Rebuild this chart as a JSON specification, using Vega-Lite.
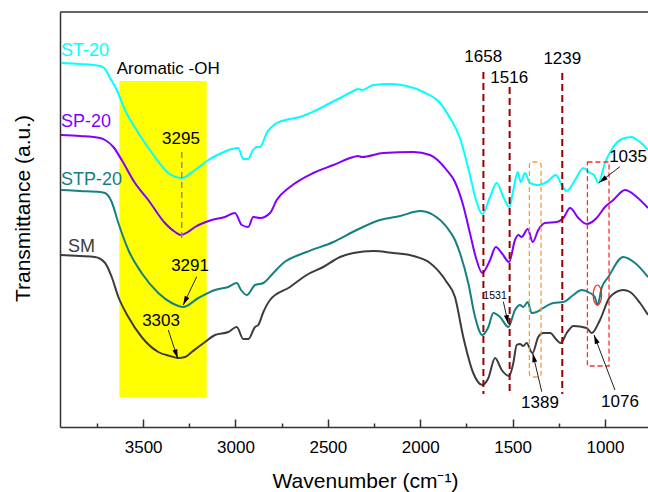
{
  "$schema": "https://vega.github.io/schema/vega-lite/v6.json",
  "width": 588,
  "height": 415,
  "autosize": "none",
  "padding": {"left": 60, "top": 12, "right": 0, "bottom": 65},
  "background": "white",
  "config": {"view": {"stroke": null}, "font": "Liberation Sans"},
  "datasets": {
    "curves": [
      {"s":"ST-20","wn":3945,"t":364},{"s":"ST-20","wn":3842,"t":363},{"s":"ST-20","wn":3733,"t":361},{"s":"ST-20","wn":3706,"t":358},{"s":"ST-20","wn":3679,"t":349},{"s":"ST-20","wn":3643,"t":337},{"s":"ST-20","wn":3598,"t":317},{"s":"ST-20","wn":3526,"t":294},{"s":"ST-20","wn":3436,"t":270},{"s":"ST-20","wn":3364,"t":254},{"s":"ST-20","wn":3291,"t":249},{"s":"ST-20","wn":3219,"t":257},{"s":"ST-20","wn":3147,"t":267},{"s":"ST-20","wn":3075,"t":274},{"s":"ST-20","wn":3019,"t":278},{"s":"ST-20","wn":2985,"t":279},{"s":"ST-20","wn":2958,"t":268},{"s":"ST-20","wn":2931,"t":268},{"s":"ST-20","wn":2905,"t":277},{"s":"ST-20","wn":2884,"t":280},{"s":"ST-20","wn":2867,"t":280},{"s":"ST-20","wn":2831,"t":294},{"s":"ST-20","wn":2777,"t":304},{"s":"ST-20","wn":2705,"t":308},{"s":"ST-20","wn":2651,"t":310},{"s":"ST-20","wn":2560,"t":317},{"s":"ST-20","wn":2488,"t":324},{"s":"ST-20","wn":2434,"t":329},{"s":"ST-20","wn":2362,"t":336},{"s":"ST-20","wn":2337,"t":338},{"s":"ST-20","wn":2315,"t":337},{"s":"ST-20","wn":2254,"t":342},{"s":"ST-20","wn":2164,"t":343},{"s":"ST-20","wn":2073,"t":341},{"s":"ST-20","wn":1983,"t":335},{"s":"ST-20","wn":1893,"t":324},{"s":"ST-20","wn":1839,"t":309},{"s":"ST-20","wn":1785,"t":289},{"s":"ST-20","wn":1731,"t":252},{"s":"ST-20","wn":1698,"t":227},{"s":"ST-20","wn":1664,"t":213},{"s":"ST-20","wn":1622,"t":230},{"s":"ST-20","wn":1586,"t":244},{"s":"ST-20","wn":1550,"t":230},{"s":"ST-20","wn":1518,"t":220},{"s":"ST-20","wn":1496,"t":237},{"s":"ST-20","wn":1472,"t":255},{"s":"ST-20","wn":1456,"t":245},{"s":"ST-20","wn":1433,"t":254},{"s":"ST-20","wn":1406,"t":244},{"s":"ST-20","wn":1361,"t":242},{"s":"ST-20","wn":1315,"t":245},{"s":"ST-20","wn":1265,"t":252},{"s":"ST-20","wn":1234,"t":242},{"s":"ST-20","wn":1207,"t":236},{"s":"ST-20","wn":1162,"t":247},{"s":"ST-20","wn":1117,"t":259},{"s":"ST-20","wn":1081,"t":254},{"s":"ST-20","wn":1059,"t":252},{"s":"ST-20","wn":1036,"t":244},{"s":"ST-20","wn":1000,"t":264},{"s":"ST-20","wn":955,"t":280},{"s":"ST-20","wn":908,"t":288},{"s":"ST-20","wn":855,"t":290},{"s":"ST-20","wn":826,"t":287},{"s":"ST-20","wn":792,"t":282},{"s":"ST-20","wn":767,"t":277},
      {"s":"SP-20","wn":3945,"t":292},{"s":"SP-20","wn":3842,"t":291},{"s":"SP-20","wn":3733,"t":289},{"s":"SP-20","wn":3706,"t":287},{"s":"SP-20","wn":3661,"t":280},{"s":"SP-20","wn":3616,"t":267},{"s":"SP-20","wn":3544,"t":244},{"s":"SP-20","wn":3472,"t":227},{"s":"SP-20","wn":3382,"t":204},{"s":"SP-20","wn":3327,"t":195},{"s":"SP-20","wn":3295,"t":192},{"s":"SP-20","wn":3257,"t":195},{"s":"SP-20","wn":3219,"t":200},{"s":"SP-20","wn":3129,"t":207},{"s":"SP-20","wn":3057,"t":210},{"s":"SP-20","wn":3003,"t":214},{"s":"SP-20","wn":2966,"t":202},{"s":"SP-20","wn":2931,"t":200},{"s":"SP-20","wn":2904,"t":210},{"s":"SP-20","wn":2867,"t":209},{"s":"SP-20","wn":2813,"t":214},{"s":"SP-20","wn":2777,"t":227},{"s":"SP-20","wn":2705,"t":240},{"s":"SP-20","wn":2579,"t":254},{"s":"SP-20","wn":2470,"t":262},{"s":"SP-20","wn":2362,"t":270},{"s":"SP-20","wn":2337,"t":271},{"s":"SP-20","wn":2315,"t":270},{"s":"SP-20","wn":2200,"t":274},{"s":"SP-20","wn":2037,"t":275},{"s":"SP-20","wn":1947,"t":272},{"s":"SP-20","wn":1857,"t":257},{"s":"SP-20","wn":1812,"t":245},{"s":"SP-20","wn":1768,"t":222},{"s":"SP-20","wn":1731,"t":194},{"s":"SP-20","wn":1698,"t":169},{"s":"SP-20","wn":1664,"t":154},{"s":"SP-20","wn":1622,"t":167},{"s":"SP-20","wn":1591,"t":180},{"s":"SP-20","wn":1559,"t":174},{"s":"SP-20","wn":1519,"t":165},{"s":"SP-20","wn":1487,"t":187},{"s":"SP-20","wn":1469,"t":192},{"s":"SP-20","wn":1451,"t":190},{"s":"SP-20","wn":1418,"t":198},{"s":"SP-20","wn":1391,"t":185},{"s":"SP-20","wn":1361,"t":197},{"s":"SP-20","wn":1325,"t":204},{"s":"SP-20","wn":1261,"t":205},{"s":"SP-20","wn":1225,"t":209},{"s":"SP-20","wn":1189,"t":219},{"s":"SP-20","wn":1144,"t":209},{"s":"SP-20","wn":1099,"t":203},{"s":"SP-20","wn":1045,"t":209},{"s":"SP-20","wn":1000,"t":220},{"s":"SP-20","wn":955,"t":227},{"s":"SP-20","wn":891,"t":237},{"s":"SP-20","wn":828,"t":230},{"s":"SP-20","wn":767,"t":219},
      {"s":"STP-20","wn":3945,"t":237},{"s":"STP-20","wn":3842,"t":236},{"s":"STP-20","wn":3733,"t":235},{"s":"STP-20","wn":3706,"t":234},{"s":"STP-20","wn":3670,"t":225},{"s":"STP-20","wn":3634,"t":204},{"s":"STP-20","wn":3580,"t":177},{"s":"STP-20","wn":3508,"t":154},{"s":"STP-20","wn":3418,"t":134},{"s":"STP-20","wn":3345,"t":124},{"s":"STP-20","wn":3283,"t":120},{"s":"STP-20","wn":3201,"t":129},{"s":"STP-20","wn":3111,"t":137},{"s":"STP-20","wn":3039,"t":140},{"s":"STP-20","wn":2993,"t":144},{"s":"STP-20","wn":2970,"t":137},{"s":"STP-20","wn":2939,"t":132},{"s":"STP-20","wn":2894,"t":142},{"s":"STP-20","wn":2849,"t":144},{"s":"STP-20","wn":2795,"t":154},{"s":"STP-20","wn":2741,"t":164},{"s":"STP-20","wn":2615,"t":175},{"s":"STP-20","wn":2470,"t":185},{"s":"STP-20","wn":2344,"t":197},{"s":"STP-20","wn":2218,"t":207},{"s":"STP-20","wn":2109,"t":211},{"s":"STP-20","wn":2001,"t":216},{"s":"STP-20","wn":1929,"t":212},{"s":"STP-20","wn":1857,"t":200},{"s":"STP-20","wn":1812,"t":187},{"s":"STP-20","wn":1785,"t":174},{"s":"STP-20","wn":1740,"t":144},{"s":"STP-20","wn":1703,"t":110},{"s":"STP-20","wn":1664,"t":92},{"s":"STP-20","wn":1631,"t":100},{"s":"STP-20","wn":1604,"t":114},{"s":"STP-20","wn":1568,"t":110},{"s":"STP-20","wn":1523,"t":100},{"s":"STP-20","wn":1487,"t":117},{"s":"STP-20","wn":1460,"t":122},{"s":"STP-20","wn":1442,"t":120},{"s":"STP-20","wn":1418,"t":125},{"s":"STP-20","wn":1397,"t":114},{"s":"STP-20","wn":1370,"t":115},{"s":"STP-20","wn":1334,"t":119},{"s":"STP-20","wn":1280,"t":124},{"s":"STP-20","wn":1225,"t":125},{"s":"STP-20","wn":1171,"t":132},{"s":"STP-20","wn":1126,"t":137},{"s":"STP-20","wn":1081,"t":134},{"s":"STP-20","wn":1055,"t":130},{"s":"STP-20","wn":1040,"t":122},{"s":"STP-20","wn":1018,"t":139},{"s":"STP-20","wn":982,"t":150},{"s":"STP-20","wn":901,"t":170},{"s":"STP-20","wn":837,"t":164},{"s":"STP-20","wn":767,"t":150},
      {"s":"SM","wn":3945,"t":172},{"s":"SM","wn":3842,"t":171},{"s":"SM","wn":3761,"t":170},{"s":"SM","wn":3706,"t":164},{"s":"SM","wn":3670,"t":150},{"s":"SM","wn":3634,"t":130},{"s":"SM","wn":3580,"t":110},{"s":"SM","wn":3508,"t":90},{"s":"SM","wn":3418,"t":75},{"s":"SM","wn":3355,"t":71},{"s":"SM","wn":3310,"t":69},{"s":"SM","wn":3273,"t":70},{"s":"SM","wn":3237,"t":75},{"s":"SM","wn":3165,"t":85},{"s":"SM","wn":3111,"t":92},{"s":"SM","wn":3039,"t":95},{"s":"SM","wn":2993,"t":100},{"s":"SM","wn":2958,"t":88},{"s":"SM","wn":2931,"t":88},{"s":"SM","wn":2894,"t":100},{"s":"SM","wn":2877,"t":102},{"s":"SM","wn":2849,"t":115},{"s":"SM","wn":2813,"t":127},{"s":"SM","wn":2705,"t":140},{"s":"SM","wn":2615,"t":152},{"s":"SM","wn":2525,"t":160},{"s":"SM","wn":2434,"t":170},{"s":"SM","wn":2362,"t":174},{"s":"SM","wn":2254,"t":176},{"s":"SM","wn":2146,"t":174},{"s":"SM","wn":2037,"t":171},{"s":"SM","wn":1947,"t":164},{"s":"SM","wn":1857,"t":145},{"s":"SM","wn":1812,"t":130},{"s":"SM","wn":1767,"t":90},{"s":"SM","wn":1713,"t":54},{"s":"SM","wn":1664,"t":42},{"s":"SM","wn":1631,"t":49},{"s":"SM","wn":1595,"t":69},{"s":"SM","wn":1559,"t":57},{"s":"SM","wn":1519,"t":51},{"s":"SM","wn":1496,"t":64},{"s":"SM","wn":1478,"t":82},{"s":"SM","wn":1460,"t":83},{"s":"SM","wn":1442,"t":81},{"s":"SM","wn":1424,"t":84},{"s":"SM","wn":1393,"t":74},{"s":"SM","wn":1361,"t":90},{"s":"SM","wn":1334,"t":94},{"s":"SM","wn":1297,"t":94},{"s":"SM","wn":1261,"t":87},{"s":"SM","wn":1240,"t":84},{"s":"SM","wn":1207,"t":94},{"s":"SM","wn":1171,"t":101},{"s":"SM","wn":1099,"t":99},{"s":"SM","wn":1072,"t":94},{"s":"SM","wn":1027,"t":107},{"s":"SM","wn":973,"t":130},{"s":"SM","wn":901,"t":137},{"s":"SM","wn":864,"t":135},{"s":"SM","wn":810,"t":124},{"s":"SM","wn":767,"t":112}
    ]
  },
  "layer": [
    {
      "data": {"values": [{"x1": 3629, "x2": 3156, "y1": 30, "y2": 346}]},
      "mark": {"type": "rect", "color": "#FFFF00"},
      "encoding": {
        "x": {"field": "x1", "type": "quantitative", "scale": {"domain": [3950, 767], "nice": false, "zero": false},
          "axis": {"values": [3750, 3500, 3250, 3000, 2750, 2500, 2250, 2000, 1750, 1500, 1250, 1000], "format": "d",
            "labelExpr": "datum.value % 500 === 0 ? datum.label : ''",
            "tickSize": {"condition": {"test": "datum.value % 500 === 0", "value": -8}, "value": -4},
            "tickColor": "#333333", "tickWidth": 1.5, "domainColor": "#333333", "domainWidth": 1.5,
            "labelFontSize": 17, "labelColor": "#000000", "labelPadding": 20, "labelFont": "Liberation Sans",
            "grid": false, "title": "Wavenumber (cm⁻¹)", "titleFontSize": 21, "titleFontWeight": "normal",
            "titleColor": "#000000", "titleFont": "Liberation Sans", "titleX": 305, "titleY": 54, "titleAlign": "center", "titleBaseline": "middle"}},
        "x2": {"field": "x2"},
        "y": {"field": "y1", "type": "quantitative", "scale": {"domain": [0, 415], "nice": false, "zero": false},
          "axis": {"ticks": false, "labels": false, "grid": false, "domainColor": "#333333", "domainWidth": 1.5,
            "title": "Transmittance (a.u.)", "titleFontSize": 21, "titleFontWeight": "normal", "titleColor": "#000000",
            "titleFont": "Liberation Sans", "titleX": -37, "titleY": 196, "titleAngle": -90, "titleAlign": "center", "titleBaseline": "middle"}},
        "y2": {"field": "y2"}
      }
    },
    {
      "data": {"values": [{"t": 415}]},
      "mark": {"type": "rule", "color": "#333333", "strokeWidth": 1.5},
      "encoding": {"y": {"field": "t", "type": "quantitative"}}
    },
    {
      "data": {"name": "curves"},
      "mark": {"type": "line", "strokeWidth": 2, "interpolate": "monotone"},
      "encoding": {
        "x": {"field": "wn", "type": "quantitative"},
        "y": {"field": "t", "type": "quantitative"},
        "color": {"field": "s", "type": "nominal", "legend": null,
          "scale": {"domain": ["ST-20", "SP-20", "STP-20", "SM"], "range": ["#00FFFF", "#8000FF", "#148080", "#3C3C3C"]}}
      }
    },
    {
      "data": {"values": [{"wn": 1658, "top": 355, "bot": 33}, {"wn": 1516, "top": 340, "bot": 33}, {"wn": 1231, "top": 354, "bot": 33}]},
      "mark": {"type": "rule", "color": "#990000", "strokeWidth": 2, "strokeDash": [7, 4]},
      "encoding": {"x": {"field": "wn", "type": "quantitative"}, "y": {"field": "top", "type": "quantitative"}, "y2": {"field": "bot"}}
    },
    {
      "data": {"values": [{"wn": 3291, "top": 275, "bot": 185}]},
      "mark": {"type": "rule", "color": "#888888", "strokeWidth": 1.5, "strokeDash": [6, 4]},
      "encoding": {"x": {"field": "wn", "type": "quantitative"}, "y": {"field": "top", "type": "quantitative"}, "y2": {"field": "bot"}}
    },
    {
      "data": {"values": [{"x1": 1409, "x2": 1346, "y1": 50, "y2": 265}]},
      "mark": {"type": "rect", "fill": null, "stroke": "#FF9933", "strokeWidth": 1.3, "strokeDash": [5, 3], "cornerRadius": 3},
      "encoding": {"x": {"field": "x1", "type": "quantitative"}, "x2": {"field": "x2"}, "y": {"field": "y1", "type": "quantitative"}, "y2": {"field": "y2"}}
    },
    {
      "data": {"values": [{"x1": 1095, "x2": 978, "y1": 61, "y2": 265}]},
      "mark": {"type": "rect", "fill": null, "stroke": "#FF2A2A", "strokeWidth": 1.3, "strokeDash": [5, 3]},
      "encoding": {"x": {"field": "x1", "type": "quantitative"}, "x2": {"field": "x2"}, "y": {"field": "y1", "type": "quantitative"}, "y2": {"field": "y2"}}
    },
    {
      "data": {"values": [{"wn": 1041, "t": 132}]},
      "mark": {"type": "point", "shape": "M0,-1A0.42,1,0,1,1,0,1A0.42,1,0,1,1,0,-1Z", "size": 400, "filled": false, "stroke": "#FF2020", "strokeWidth": 1.2, "opacity": 1},
      "encoding": {"x": {"field": "wn", "type": "quantitative"}, "y": {"field": "t", "type": "quantitative"}}
    },
    {
      "data": {"values": [
        {"x": 3210, "y": 150.3, "x2": 3283, "y2": 122, "ang": 205.3},
        {"x": 3364, "y": 97, "x2": 3313, "y2": 68.7, "ang": 161.6},
        {"x": 919, "y": 260.3, "x2": 1032, "y2": 244.3, "ang": 232.7},
        {"x": 1550, "y": 125.3, "x2": 1523, "y2": 103, "ang": 167.4},
        {"x": 1342, "y": 35.3, "x2": 1391, "y2": 73.7, "ang": 346.8},
        {"x": 946, "y": 37, "x2": 1059, "y2": 92, "ang": 339.1}
      ]},
      "layer": [
        {
          "mark": {"type": "rule", "color": "#222222", "strokeWidth": 1},
          "encoding": {"x": {"field": "x", "type": "quantitative"}, "y": {"field": "y", "type": "quantitative"}, "x2": {"field": "x2"}, "y2": {"field": "y2"}}
        },
        {
          "mark": {"type": "point", "shape": "M0,0L-0.45,1.6L0.45,1.6Z", "size": 125, "filled": true, "color": "#000000", "opacity": 1},
          "encoding": {"x": {"field": "x2", "type": "quantitative"}, "y": {"field": "y2", "type": "quantitative"}, "angle": {"field": "ang", "type": "quantitative", "scale": null}}
        }
      ]
    },
    {
      "data": {"values": [
        {"label": "Aromatic -OH", "wn": 3364, "t": 358.5},
        {"label": "3295", "wn": 3295, "t": 288},
        {"label": "3291", "wn": 3246, "t": 161},
        {"label": "3303", "wn": 3403, "t": 106},
        {"label": "1658", "wn": 1659, "t": 370},
        {"label": "1516", "wn": 1518, "t": 348.7},
        {"label": "1239", "wn": 1231, "t": 367.7},
        {"label": "1035", "wn": 875, "t": 270.3},
        {"label": "1389", "wn": 1352, "t": 24.5},
        {"label": "1076", "wn": 919, "t": 25}
      ]},
      "mark": {"type": "text", "fontSize": 17, "font": "Liberation Sans", "color": "#000000", "align": "center", "baseline": "middle"},
      "encoding": {"x": {"field": "wn", "type": "quantitative"}, "y": {"field": "t", "type": "quantitative"}, "text": {"field": "label"}}
    },
    {
      "data": {"values": [{"label": "1531", "wn": 1595, "t": 131.5}]},
      "mark": {"type": "text", "fontSize": 10.5, "font": "Liberation Sans", "color": "#000000", "align": "center", "baseline": "middle"},
      "encoding": {"x": {"field": "wn", "type": "quantitative"}, "y": {"field": "t", "type": "quantitative"}, "text": {"field": "label"}}
    },
    {
      "data": {"values": [
        {"s": "ST-20", "wn": 3945, "t": 376},
        {"s": "SP-20", "wn": 3945, "t": 305},
        {"s": "STP-20", "wn": 3945, "t": 247},
        {"s": "SM", "wn": 3907, "t": 180.3}
      ]},
      "mark": {"type": "text", "fontSize": 18, "font": "Liberation Sans", "align": "left", "baseline": "middle"},
      "encoding": {"x": {"field": "wn", "type": "quantitative"}, "y": {"field": "t", "type": "quantitative"}, "text": {"field": "s"},
        "color": {"field": "s", "type": "nominal", "legend": null}}
    }
  ]
}
